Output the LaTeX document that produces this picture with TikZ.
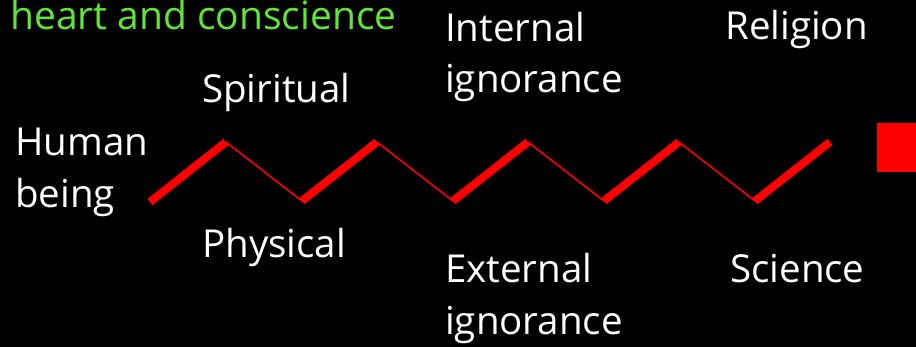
\documentclass[tikz,border=0pt]{standalone}
\usepackage{fontspec}
\setmainfont{Open Sans}
\definecolor{zred}{RGB}{255,0,0}
\definecolor{zgreen}{RGB}{95,230,55}
\tikzset{
  lbl/.style={anchor=base west, inner sep=0pt, text=white, font=\fontsize{38.5}{46}\selectfont},
  glbl/.style={lbl, text=zgreen, font=\fontsize{39}{47}\selectfont},
  rise/.style={draw=zred, line width=8pt},
  fall/.style={draw=zred, line width=1.6pt}
}
\begin{document}
\begin{tikzpicture}[x=1pt,y=-1pt]
\fill[black] (0,0) rectangle (916,347);
\useasboundingbox (0,0) rectangle (916,347);
% zigzag points
\coordinate (p0) at (150,202);
\coordinate (p1) at (226,142);
\coordinate (p2) at (302,201);
\coordinate (p3) at (377,142);
\coordinate (p4) at (453,201);
\coordinate (p5) at (528,142);
\coordinate (p6) at (604,201);
\coordinate (p7) at (679,142);
\coordinate (p8) at (755,201);
\coordinate (p9) at (830,142);
\draw[fall] (p1) -- (p2);
\draw[fall] (p3) -- (p4);
\draw[fall] (p5) -- (p6);
\draw[fall] (p7) -- (p8);
\draw[rise] (p0) -- (p1);
\draw[rise] (p2) -- (p3);
\draw[rise] (p4) -- (p5);
\draw[rise] (p6) -- (p7);
\draw[rise] (p8) -- (p9);
% square
\fill[zred] (877,123) rectangle (916,172);
% labels
\node[glbl] (heart) at (10,30) {heart and conscience};
\node[lbl] (human) at (15,156) {Human};
\node[lbl] (being) at (15,208) {being};
\node[lbl] (spirit) at (202,103) {Spiritual};
\node[lbl] (phys) at (202,258) {Physical};
\node[lbl] (intern) at (445,42) {Internal};
\node[lbl] (ign1) at (445,93) {ignorance};
\node[lbl] (extern) at (445,283) {External};
\node[lbl] (ign2) at (445,335) {ignorance};
\node[lbl] (relig) at (725,40) {Religion};
\node[lbl] (sci) at (730,283) {Science};
\end{tikzpicture}
\end{document}
